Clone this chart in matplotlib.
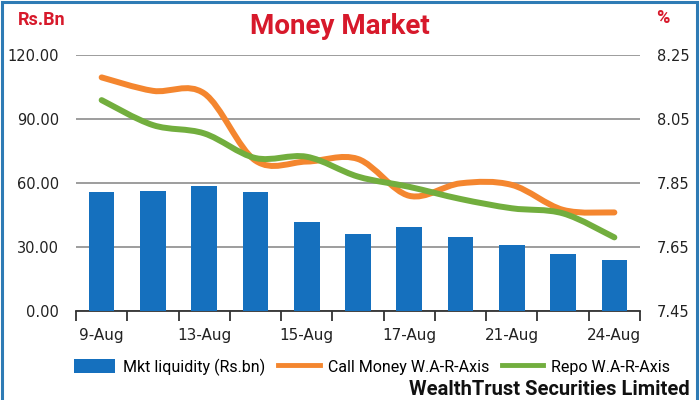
import matplotlib
matplotlib.use('Agg')
import matplotlib.pyplot as plt
import numpy as np
from matplotlib.path import Path
from matplotlib.patches import PathPatch, Patch, Rectangle
from matplotlib.lines import Line2D

# -----------------------------------------------------------------------------------------------------

# Chart data
dates = ['9-Aug', '10-Aug', '13-Aug', '14-Aug', '15-Aug', '16-Aug',
         '17-Aug', '20-Aug', '21-Aug', '23-Aug', '24-Aug']
shown_labels = ['9-Aug', '', '13-Aug', '', '15-Aug', '', '17-Aug', '', '21-Aug', '', '24-Aug']
mkt_liquidity = [55.8, 56.3, 58.6, 55.8, 41.9, 36.0, 39.5, 34.7, 30.9, 26.7, 23.9]
call_money = [8.180, 8.138, 8.130, 7.920, 7.917, 7.925, 7.810, 7.849, 7.844, 7.766, 7.758]
repo = [8.109, 8.031, 8.005, 7.928, 7.932, 7.870, 7.838, 7.800, 7.771, 7.755, 7.680]

left_ticks = [0, 30, 60, 90, 120]
right_ticks = [7.45, 7.65, 7.85, 8.05, 8.25]

# Colors
bar_color = '#1570BE'
call_color = '#F4862F'
repo_color = '#72AE3E'
red = '#D7192B'
grid_color = '#8C8C8C'

narrow = ['Roboto', 'DejaVu Sans']

# -----------------------------------------------------------------------------------------------------

# Smoothed line (Excel style) drawn as cubic bezier segments through the data points
def smooth_path(x, y):
    pts = np.column_stack([x, y]).astype(float)
    n = len(pts)
    verts = [pts[0]]
    codes = [Path.MOVETO]
    for i in range(n - 1):
        p0 = pts[max(i - 1, 0)]
        p1 = pts[i]
        p2 = pts[i + 1]
        p3 = pts[min(i + 2, n - 1)]
        c1 = p1 + (p2 - p0) / 6.0
        c2 = p2 - (p3 - p1) / 6.0
        verts += [c1, c2, p2]
        codes += [Path.CURVE4] * 3
    return Path(verts, codes)

# -----------------------------------------------------------------------------------------------------

fig = plt.figure(figsize=(7, 4), dpi=100)
ax = fig.add_axes([76 / 700, 1 - 311 / 400, (640 - 76) / 700, (311 - 55) / 400])
ax2 = ax.twinx()

x = np.arange(len(dates))

# Bars on the left axis
ax.bar(x, mkt_liquidity, width=0.5, color=bar_color, zorder=3)
ax.set_xlim(-0.5, len(dates) - 0.5)
ax.set_ylim(0, 120)
ax.set_yticks(left_ticks)
ax.set_yticklabels(['%.2f' % v for v in left_ticks], fontsize=10.5, color='#222222')
ax.yaxis.grid(True, color=grid_color, linewidth=1.2, zorder=0)
ax.set_axisbelow(True)

# Category ticks at boundaries, labels in the middle
ax.set_xticks(np.arange(len(dates) + 1) - 0.5)
ax.set_xticklabels([])
ax.set_xticks(x, minor=True)
ax.set_xticklabels(shown_labels, minor=True, fontsize=11, color='#222222')
ax.tick_params(axis='x', which='major', length=7, width=1.3, color='#333333', direction='out')
ax.tick_params(axis='x', which='minor', length=0, pad=12)
ax.tick_params(axis='y', length=0, pad=12)

for s in ['top', 'left', 'right']:
    ax.spines[s].set_visible(False)
    ax2.spines[s].set_visible(False)
ax.spines['bottom'].set_color('#333333')
ax.spines['bottom'].set_linewidth(1.3)
ax2.spines['bottom'].set_visible(False)

# Lines on the right axis
ax2.set_ylim(7.45, 8.25)
ax2.set_yticks(right_ticks)
ax2.set_yticklabels(['%.2f' % v for v in right_ticks], fontsize=10.5, color='#222222')
ax2.tick_params(axis='y', length=0, pad=12)
ax2.add_patch(PathPatch(smooth_path(x, call_money), facecolor='none', edgecolor=call_color,
                        linewidth=4.3, capstyle='round', zorder=4))
ax2.add_patch(PathPatch(smooth_path(x, repo), facecolor='none', edgecolor=repo_color,
                        linewidth=4.3, capstyle='round', zorder=5))

# Titles and units
fig.text(340 / 700, 1 - 26 / 400, 'Money Market', color=red, fontsize=20, fontweight='bold',
         family=narrow, ha='center', va='center')
fig.text(18 / 700, 1 - 20 / 400, 'Rs.Bn', color=red, fontsize=13, fontweight='bold',
         family=narrow, ha='left', va='center')
fig.text(663 / 700, 1 - 18 / 400, '%', color=red, fontsize=13, fontweight='bold',
         family=narrow, ha='center', va='center')

# Legend
handles = [Patch(facecolor=bar_color, edgecolor='none'),
           Line2D([0], [0], color=call_color, linewidth=3.5),
           Line2D([0], [0], color=repo_color, linewidth=3.5)]
labels = ['Mkt liquidity (Rs.bn)', 'Call Money W.A-R-Axis', 'Repo W.A-R-Axis']
fig.legend(handles, labels, loc='center', bbox_to_anchor=(372 / 700, 1 - 367 / 400), ncol=3,
           frameon=False, prop={'family': narrow, 'size': 11.5}, handlelength=2.6,
           handleheight=1.0, columnspacing=0.8, handletextpad=0.5)

# Source
fig.text(690 / 700, 1 / 400, 'WealthTrust Securities Limited', color='#111111',
         fontsize=14.5, fontweight='bold', family=narrow, ha='right', va='bottom')

# Frame around the graphic
fig.patches.append(Rectangle((0.003, -0.2), 0.993, 1.195, transform=fig.transFigure,
                             fill=False, edgecolor='#2E7BB5', linewidth=2.2))

plt.savefig('out.png', dpi=100)
